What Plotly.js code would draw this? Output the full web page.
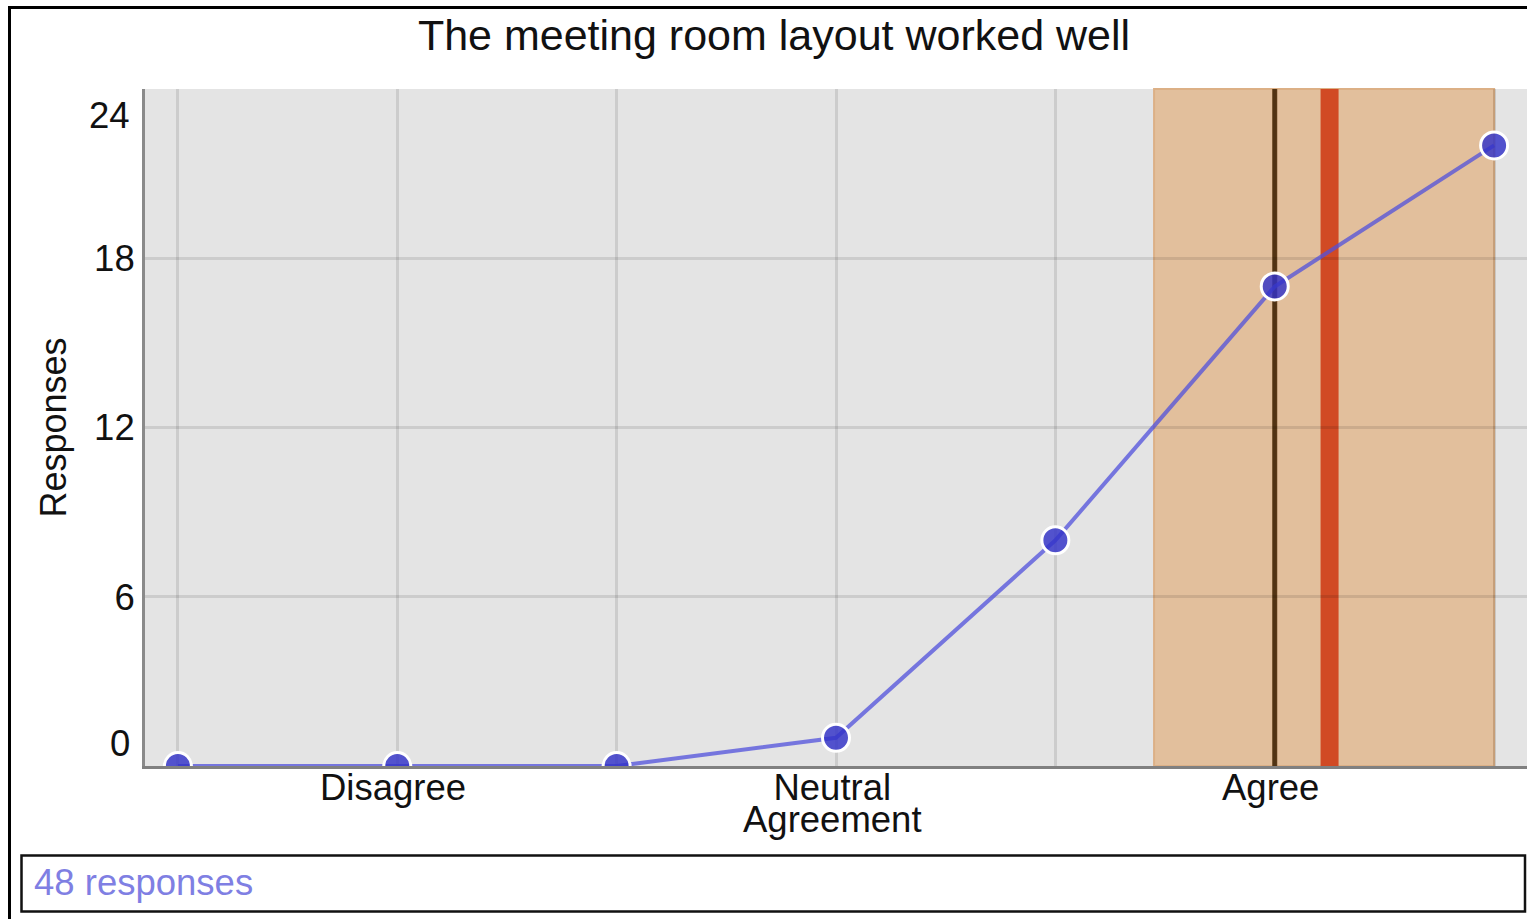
<!DOCTYPE html>
<html>
<head>
<meta charset="utf-8">
<script src="https://cdn.plot.ly/plotly-3.0.1.min.js"></script>
<style>
  html, body { margin: 0; padding: 0; background: #ffffff; }
  #chart { width: 1527px; height: 919px; }
</style>
</head>
<body>
<div id="chart"></div>
<script>
// ---- data ----
const xLevels = [1, 2, 3, 4, 5, 6, 7];
const responses = [0, 0, 0, 1, 8, 17, 22];
const xTickVals = [2, 4, 6];
const xTickLabels = ['Disagree', 'Neutral\nAgreement', 'Agree'];
const yTickVals = [0, 6, 12, 18, 24];
const yTickLabels = ['0', '6', '12', '18', '24'];
const medianValue = 6;
const meanValue = 6.25;
const sdBandLow = 5.45;
const sdBandHigh = 7.0;
const titleText = 'The meeting room layout worked well';
const yTitleText = 'Responses';
const footerText = '48 responses';

// ---- layout geometry (pixels) ----
const W = 1527, H = 919;
const L = 145, T = 89, B = 153, R = 0;
const plotW = W - L - R, plotH = H - T - B;
const px = v => (v - L) / plotW;          // pixel x -> paper x
const py = v => (H - B - v) / plotH;      // pixel y -> paper y

const FONT = '"Liberation Sans", Arial, Helvetica, sans-serif';
const GRID = 'rgba(0,0,0,0.10)';
const TICK_SIZE = 36.5;

const trace = {
  x: xLevels,
  y: responses,
  type: 'scatter',
  mode: 'lines+markers',
  line: { color: 'rgba(80,80,220,0.75)', width: 4 },
  marker: { size: 27, color: 'rgba(50,50,200,0.82)', line: { color: '#ffffff', width: 3 } },
  hoverinfo: 'x+y',
  showlegend: false
};

// x tick labels as annotations: the base font size sets the (tight) line spacing,
// the span sets the glyph size, as in the reference
const annotations = [];
xTickLabels.forEach((s, i) => {
  const html = s.split('\n')
    .map(line => '<span style="font-size:' + TICK_SIZE + 'px">' + line + '</span>')
    .join('<br>');
  annotations.push({
    x: xTickVals[i], xref: 'x', xshift: -4, y: 0, yref: 'paper',
    yshift: 1, yanchor: 'top',
    text: html, showarrow: false,
    font: { family: FONT, size: 24.6, color: '#111111' }
  });
});
// edge y tick labels (0 and 24) sit inside the axis span
yTickVals.forEach((v, i) => {
  if (i === 0 || i === yTickVals.length - 1) {
    annotations.push({
      x: 0, xref: 'paper', xshift: -13, xanchor: 'right',
      y: v, yref: 'y', yshift: i === 0 ? 23 : -26, yanchor: 'middle',
      text: yTickLabels[i], showarrow: false,
      font: { family: FONT, size: TICK_SIZE, color: '#111111' }
    });
  }
});
annotations.push({
  x: px(32), xref: 'paper', xanchor: 'left',
  y: py(882), yref: 'paper', yanchor: 'middle',
  text: footerText, showarrow: false,
  font: { family: FONT, size: 36.5, color: '#7f7fe3' }
});

const innerTicks = yTickVals.slice(1, -1);

const layout = {
  width: W, height: H,
  margin: { l: L, r: R, t: T, b: B, pad: 0 },
  paper_bgcolor: '#ffffff',
  plot_bgcolor: '#e4e4e4',
  font: { family: FONT, size: TICK_SIZE, color: '#111111' },
  title: {
    text: titleText,
    x: 774 / W, xref: 'container', xanchor: 'center',
    y: 1 - 35 / H, yref: 'container', yanchor: 'middle',
    font: { family: FONT, size: 43, color: '#111111' }
  },
  xaxis: {
    range: [0.85, 7.15],
    tickmode: 'array',
    tickvals: xLevels,
    showticklabels: false,
    showgrid: true,
    gridcolor: GRID,
    gridwidth: 2.5,
    zeroline: false,
    showline: true, linecolor: '#808080', linewidth: 3,
    ticks: '',
    fixedrange: true
  },
  yaxis: {
    range: [0, 24],
    tickmode: 'array',
    tickvals: innerTicks,
    ticktext: innerTicks.map(v => yTickLabels[yTickVals.indexOf(v)]),
    showgrid: true,
    gridcolor: GRID,
    gridwidth: 2.5,
    zeroline: false,
    showline: true, linecolor: '#8a8a8a', linewidth: 3,
    ticks: '',
    ticklabelstandoff: 0,
    tickfont: { family: FONT, size: TICK_SIZE, color: '#111111' },
    title: { text: yTitleText, standoff: 17, font: { family: FONT, size: 36, color: '#111111' } },
    fixedrange: true
  },
  shapes: [
    { type: 'rect', xref: 'x', yref: 'paper', x0: sdBandLow, x1: sdBandHigh, y0: 0, y1: 1,
      fillcolor: '#e2bf9c', line: { color: '#dcb086', width: 2 }, layer: 'below' },
    { type: 'line', xref: 'x', yref: 'paper', x0: medianValue, x1: medianValue, y0: 0, y1: 1,
      line: { color: '#5a3917', width: 5 }, layer: 'below' },
    { type: 'line', xref: 'x', yref: 'paper', x0: meanValue, x1: meanValue, y0: 0, y1: 1,
      line: { color: '#d14a24', width: 18 }, layer: 'below' },
    { type: 'rect', xref: 'paper', yref: 'paper', x0: px(9.5), x1: px(1540), y0: py(935), y1: py(7.5),
      line: { color: '#000000', width: 3 }, fillcolor: 'rgba(0,0,0,0)', layer: 'above' },
    { type: 'rect', xref: 'paper', yref: 'paper', x0: px(21.5), x1: px(1525), y0: py(911.5), y1: py(855.5),
      line: { color: '#111111', width: 2.5 }, fillcolor: 'rgba(0,0,0,0)', layer: 'above' }
  ],
  annotations: annotations,
  showlegend: false,
  hovermode: 'closest'
};

Plotly.newPlot('chart', [trace], layout, { displayModeBar: false });
</script>
</body>
</html>
